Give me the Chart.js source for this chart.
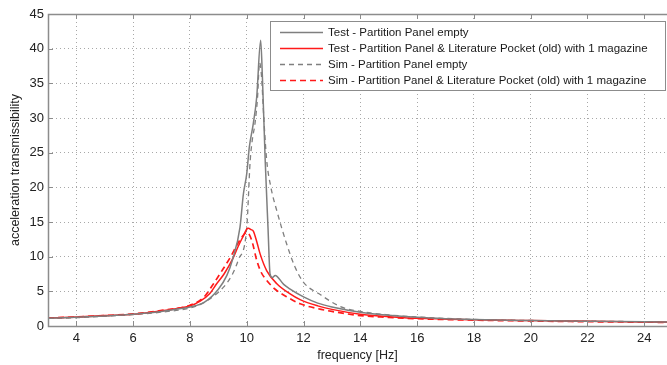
<!DOCTYPE html>
<html>
<head>
<meta charset="utf-8">
<script src="https://cdn.jsdelivr.net/npm/chart.js@4.4.0/dist/chart.umd.min.js"></script>
<style>
  html, body { margin: 0; padding: 0; background: #fff; }
  #wrap { width: 667px; height: 365px; }
</style>
</head>
<body>
<div id="wrap"><canvas id="GraphiqueTransmissibilite" width="667" height="365"></canvas></div>
<script>
// donnees
var xTicks = [4, 6, 8, 10, 12, 14, 16, 18, 20, 22, 24];

var testVideFreq = [3, 4, 5, 6, 7, 7.5, 8, 8.5, 9, 9.3, 9.5, 9.76, 9.88, 10.0, 10.09, 10.23, 10.35, 10.49, 10.55, 10.65, 10.75, 10.82, 10.9, 11.0, 11.3, 11.5, 12, 12.5, 13, 14, 15, 16, 17, 18, 20, 22, 24, 25];
var testVideVals = [1.1, 1.25, 1.45, 1.7, 2.1, 2.4, 2.75, 3.4, 5.3, 7.3, 9.6, 14.2, 19, 22, 25.8, 29.2, 33, 41.2, 36, 23.8, 14, 7.5, 7.0, 7.3, 6.0, 5.4, 4.2, 3.3, 2.75, 2.0, 1.55, 1.25, 1.05, 0.92, 0.78, 0.68, 0.6, 0.58];

var testPocheFreq = [3, 4, 5, 6, 7, 7.5, 8, 8.36, 8.7, 8.94, 9.2, 9.53, 9.7, 9.88, 10.0, 10.06, 10.15, 10.23, 10.35, 10.47, 10.7, 11.06, 11.5, 11.88, 12.5, 13, 14, 15, 16, 18, 20, 22, 24, 25];
var testPocheVals = [1.15, 1.3, 1.5, 1.7, 2.2, 2.5, 2.9, 3.6, 4.7, 6.1, 7.5, 9.9, 11.5, 13, 14.0, 14.1, 13.9, 13.7, 12.2, 10.4, 8.0, 6.1, 4.7, 3.8, 2.9, 2.4, 1.7, 1.35, 1.1, 0.9, 0.78, 0.68, 0.58, 0.55];

var simVideFreq = [3, 4, 5, 6, 7, 8, 8.5, 9.18, 9.5, 9.7, 10.0, 10.12, 10.2, 10.29, 10.38, 10.45, 10.52, 10.6, 10.7, 10.85, 11.06, 11.4, 11.7, 12, 12.6, 13.3, 14, 15, 16, 18, 20, 22, 24, 25];
var simVideVals = [1.1, 1.2, 1.4, 1.65, 2.0, 2.6, 3.4, 5.6, 7.5, 9.5, 14.2, 23.8, 27, 29.2, 33, 38, 36, 30, 24, 20, 16.6, 11.9, 8.5, 6.3, 4.5, 2.8, 2.1, 1.6, 1.3, 0.95, 0.8, 0.7, 0.62, 0.6];

var simPocheFreq = [3, 4, 5, 6, 7, 8, 8.5, 8.83, 9.1, 9.42, 9.7, 9.9, 10.0, 10.1, 10.2, 10.35, 10.5, 10.7, 11, 11.5, 11.88, 12.5, 13, 14, 15, 16, 18, 20, 22, 24, 25];
var simPocheVals = [1.15, 1.3, 1.5, 1.75, 2.25, 3.0, 4.2, 6.1, 7.8, 9.9, 12, 13.2, 13.5, 13.1, 12, 9.5, 7.8, 6.6, 5.3, 4.0, 3.2, 2.5, 2.1, 1.5, 1.25, 1.05, 0.85, 0.72, 0.62, 0.55, 0.52];

var etiquettes = [
    'Test - Partition Panel empty',
    'Test - Partition Panel & Literature Pocket (old) with 1 magazine',
    'Sim - Partition Panel empty',
    'Sim - Partition Panel & Literature Pocket (old) with 1 magazine'
];

function points(freq, vals) {
    return freq.map(function (f, i) { return { x: f, y: vals[i] }; });
}

var gris = '#7f7f7f';
var rouge = '#ff1a1a';
var police = '"Liberation Sans", Arial, sans-serif';

// cadre + petits traits vers l'interieur (style matlab)
var cadre = {
    id: 'cadre',
    afterDraw: function (chart) {
        var ctx = chart.ctx, a = chart.chartArea;
        var sx = chart.scales.x, sy = chart.scales.y;
        ctx.save();
        ctx.strokeStyle = '#8c8c8c';
        ctx.lineWidth = 1;
        ctx.beginPath();
        xTicks.forEach(function (v) {
            var px = Math.round(sx.getPixelForValue(v)) + 0.5;
            ctx.moveTo(px, a.bottom); ctx.lineTo(px, a.bottom - 5);
            ctx.moveTo(px, a.top); ctx.lineTo(px, a.top + 5);
        });
        for (var v = 0; v <= 45; v += 5) {
            var py = Math.round(sy.getPixelForValue(v)) + 0.5;
            ctx.moveTo(a.left, py); ctx.lineTo(a.left + 5, py);
        }
        ctx.stroke();
        ctx.lineWidth = 1.5;
        ctx.strokeRect(a.left + 0.5, a.top + 0.5, a.right - a.left + 2, a.bottom - a.top);
        ctx.restore();
    }
};

// legende encadree en haut a droite
var legende = {
    id: 'legende',
    afterDraw: function (chart) {
        var ctx = chart.ctx;
        var x0 = 270, y0 = 21, w = 395, h = 69;
        ctx.save();
        ctx.fillStyle = '#fff';
        ctx.fillRect(x0, y0, w, h);
        ctx.strokeStyle = '#8c8c8c';
        ctx.lineWidth = 1;
        ctx.strokeRect(x0 + 0.5, y0 + 0.5, w, h);
        ctx.font = '11.5px ' + police;
        ctx.textBaseline = 'middle';
        chart.data.datasets.forEach(function (ds, i) {
            var y = y0 + 11.5 + i * 16;
            ctx.strokeStyle = ds.borderColor;
            ctx.lineWidth = ds.borderWidth;
            ctx.setLineDash(ds.borderDash || []);
            ctx.beginPath();
            ctx.moveTo(x0 + 10, y); ctx.lineTo(x0 + 53, y);
            ctx.stroke();
            ctx.setLineDash([]);
            ctx.fillStyle = '#1a1a1a';
            ctx.fillText(ds.label, x0 + 58, y + 0.5);
        });
        ctx.restore();
    }
};

var ctx = document.getElementById('GraphiqueTransmissibilite').getContext('2d');

var graphique = new Chart(ctx, {
    type: 'line',
    data: {
        datasets: [
            { label: etiquettes[0], data: points(testVideFreq, testVideVals), borderColor: gris, borderWidth: 1.5 },
            { label: etiquettes[1], data: points(testPocheFreq, testPocheVals), borderColor: rouge, borderWidth: 1.5 },
            { label: etiquettes[2], data: points(simVideFreq, simVideVals), borderColor: gris, borderWidth: 1.3, borderDash: [5, 4] },
            { label: etiquettes[3], data: points(simPocheFreq, simPocheVals), borderColor: rouge, borderWidth: 1.7, borderDash: [6, 4] }
        ]
    },
    options: {
        responsive: false,
        animation: false,
        elements: {
            point: { radius: 0 },
            line: { cubicInterpolationMode: 'monotone', fill: false }
        },
        layout: { padding: { top: 14, left: 0, right: 0, bottom: 0 } },
        plugins: {
            legend: { display: false },
            tooltip: { enabled: false }
        },
        scales: {
            x: {
                type: 'linear',
                min: 3,
                max: 24.8,
                afterBuildTicks: function (scale) {
                    scale.ticks = xTicks.map(function (v) { return { value: v }; });
                },
                afterFit: function (scale) { scale.height = 39; },
                grid: {
                    color: '#a8a8a8',
                    lineWidth: 1,
                    drawTicks: false
                },
                border: { display: false, dash: [1, 3] },
                ticks: {
                    color: '#222',
                    font: { family: police, size: 13 },
                    padding: 5,
                    maxRotation: 0
                },
                title: {
                    display: true,
                    text: 'frequency [Hz]',
                    color: '#222',
                    font: { family: police, size: 12.5 },
                    padding: { top: 0, bottom: 2 }
                }
            },
            y: {
                min: 0,
                max: 45,
                afterFit: function (scale) { scale.width = 48; },
                grid: {
                    color: '#a8a8a8',
                    lineWidth: 1,
                    drawTicks: false
                },
                border: { display: false, dash: [1, 3] },
                ticks: {
                    stepSize: 5,
                    color: '#222',
                    font: { family: police, size: 13 },
                    padding: 4
                },
                title: {
                    display: true,
                    text: 'acceleration transmissibility',
                    color: '#222',
                    font: { family: police, size: 12.5 },
                    padding: { top: 8, bottom: 0 }
                }
            }
        }
    },
    plugins: [cadre, legende]
});
</script>
</body>
</html>
